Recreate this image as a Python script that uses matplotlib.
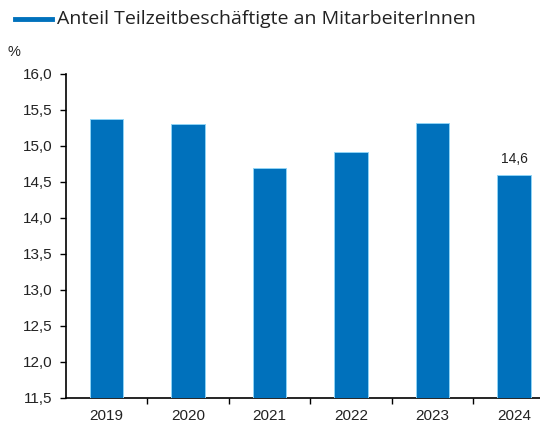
import matplotlib
matplotlib.use("Agg")
import matplotlib.pyplot as plt
from matplotlib.lines import Line2D
from matplotlib.ticker import FuncFormatter, FixedLocator

years = ["2019", "2020", "2021", "2022", "2023", "2024"]
values = [15.38, 15.30, 14.70, 14.92, 15.32, 14.60]
legend_label = "Anteil Teilzeitbeschäftigte an MitarbeiterInnen"
annotated_index = 5
annotated_text = "14,6"

fig = plt.figure(figsize=(5.4, 4.25), dpi=100)
W, H = 540, 425
left, right = 66 / W, 554.8 / W
bottom, top = 1 - 398 / H, 1 - 74 / H
ax = fig.add_axes([left, bottom, right - left, top - bottom])

x = list(range(len(years)))
ax.bar(x, values, width=0.41, bottom=0, color="#0071bc", edgecolor="#8fd3f5", linewidth=0.7, zorder=3)

ax.set_ylim(11.5, 16.0)
ax.set_xlim(-0.5, len(years) - 0.5)
ax.yaxis.set_major_locator(FixedLocator([11.5 + 0.5 * i for i in range(10)]))
ax.yaxis.set_major_formatter(FuncFormatter(lambda v, p: f"{v:.1f}".replace(".", ",")))
ax.set_xticks([i + 0.5 for i in range(len(years) - 1)])
ax.set_xticklabels([])
ax.tick_params(axis="x", length=4, width=1, direction="out", color="black")
ax.tick_params(axis="y", length=4, width=1, direction="out", color="black",
               labelsize=11, pad=6)
for lbl in ax.get_yticklabels():
    lbl.set_family("Liberation Sans")
    lbl.set_color("#222222")
for i, y in enumerate(years):
    ax.text(i, -0.035, y, transform=ax.get_xaxis_transform(), ha="center", va="top",
            fontsize=11, family="Liberation Sans", color="#222222")

for s in ["top", "right"]:
    ax.spines[s].set_visible(False)
ax.spines["left"].set_linewidth(1.2)
ax.spines["bottom"].set_linewidth(1.2)

ax.text(annotated_index, values[annotated_index] + 0.12, annotated_text, ha="center", va="bottom",
        fontsize=10, family="Liberation Sans", color="#222222")

fig.text(7 / W, 1 - 52 / H, "%", fontsize=10.5, family="Liberation Sans", color="#222222",
         ha="left", va="center")

fig.add_artist(Line2D([15 / W, 52 / W], [1 - 19 / H, 1 - 19 / H], color="#0071bc", linewidth=3.5))
fig.text(57 / W, 1 - 19 / H, legend_label, fontsize=14, family="Open Sans", color="#222222",
         ha="left", va="center")

fig.savefig("out.png", dpi=100)
